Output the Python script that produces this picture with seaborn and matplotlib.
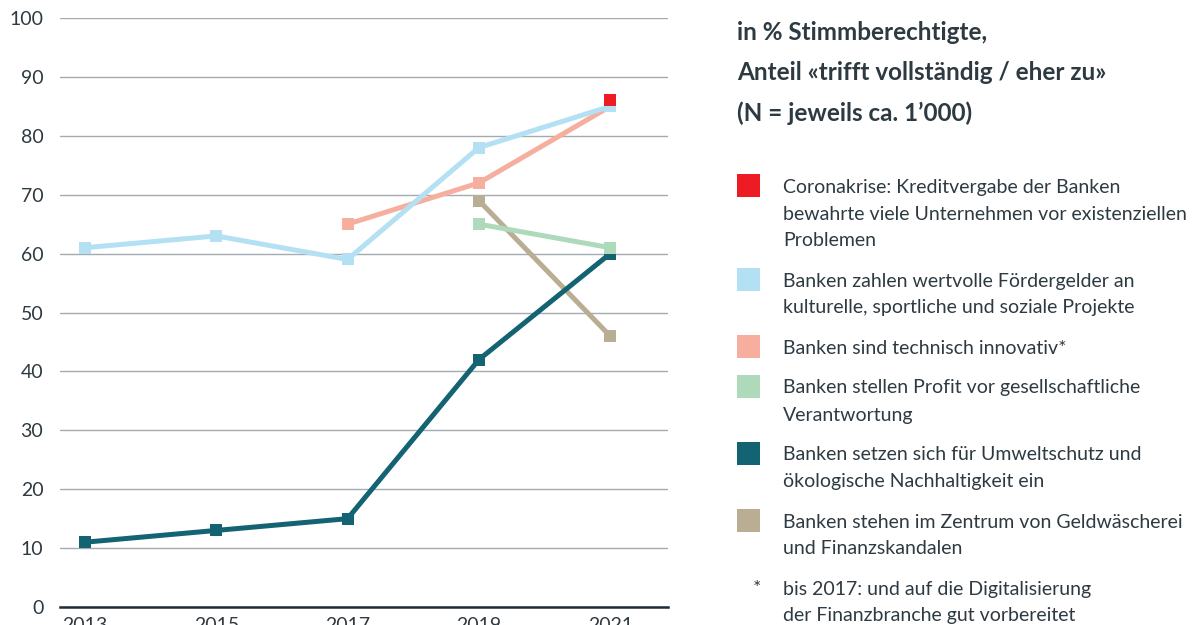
import seaborn as sns
import pandas as pd
from matplotlib import pyplot as plt
from matplotlib.patches import Rectangle

# Data

years = [2013, 2015, 2017, 2019, 2021]

foerdergelder = [61, 63, 59, 78, 85]
innovativ_years = [2017, 2019, 2021]
innovativ = [65, 72, 85]
profit_years = [2019, 2021]
profit = [65, 61]
umweltschutz = [11, 13, 15, 42, 60]
geldwaescherei_years = [2019, 2021]
geldwaescherei = [69, 46]
corona_years = [2021]
corona = [86]

legend_labels = [
    ["Coronakrise: Kreditvergabe der Banken",
     "bewahrte viele Unternehmen vor existenziellen",
     "Problemen"],
    ["Banken zahlen wertvolle Fördergelder an",
     "kulturelle, sportliche und soziale Projekte"],
    ["Banken sind technisch innovativ*"],
    ["Banken stellen Profit vor gesellschaftliche",
     "Verantwortung"],
    ["Banken setzen sich für Umweltschutz und",
     "ökologische Nachhaltigkeit ein"],
    ["Banken stehen im Zentrum von Geldwäscherei",
     "und Finanzskandalen"],
]
footnote = ["bis 2017: und auf die Digitalisierung",
            "der Finanzbranche gut vorbereitet"]
title_lines = ["in % Stimmberechtigte,",
               "Anteil «trifft vollständig / eher zu»",
               "(N = jeweils ca. 1’000)"]

RED = "#ED1C24"
BLUE = "#B3E1F3"
SALMON = "#F6AF9F"
GREEN = "#AED9BA"
TEAL = "#136372"
TAN = "#B9AD93"
TEXT = "#2E3A41"
legend_colors = [RED, BLUE, SALMON, GREEN, TEAL, TAN]

sns.set_theme(style="white")
plt.rcParams['font.family'] = ['Lato', 'DejaVu Sans']

W, H = 1194, 625
fig = plt.figure(figsize=(W / 100, H / 100), dpi=100)
ax = fig.add_axes([60 / W, 18 / H, 608 / W, 589 / H])

line_kw = dict(marker='s', markersize=8, markeredgewidth=0, linewidth=3.6)

sns.lineplot(x=innovativ_years, y=innovativ, color=SALMON, zorder=2, ax=ax, **line_kw)
sns.lineplot(x=geldwaescherei_years, y=geldwaescherei, color=TAN, zorder=3, ax=ax, **line_kw)
sns.lineplot(x=years, y=umweltschutz, color=TEAL, zorder=4, ax=ax, **line_kw)
sns.lineplot(x=profit_years, y=profit, color=GREEN, zorder=5, ax=ax, **line_kw)
sns.lineplot(x=years, y=foerdergelder, color=BLUE, zorder=6, ax=ax, **line_kw)
sns.lineplot(x=corona_years, y=corona, color=RED, zorder=7, ax=ax, **line_kw)

ax.set_xlim(2012.62, 2021.88)
ax.set_ylim(0, 100)
ax.set_xticks(years)
ax.set_yticks(range(0, 101, 10))
ax.yaxis.grid(True, color="#A3ABB1", linewidth=1.0, zorder=0)
ax.set_axisbelow(True)
for side in ['left', 'right', 'top']:
    ax.spines[side].set_visible(False)
ax.spines['bottom'].set_color("#1F2D35")
ax.spines['bottom'].set_linewidth(1.8)
ax.tick_params(axis='y', length=0, pad=12, labelsize=14, labelcolor=TEXT)
ax.tick_params(axis='x', length=0, pad=7, labelsize=14, labelcolor=TEXT)
ax.set_xlabel("")
ax.set_ylabel("")

# Title on the right
for i, line in enumerate(title_lines):
    fig.text(737 / W, 1 - (33 + i * 40) / H, line, fontsize=17.5, fontweight='bold',
             color=TEXT, va='center', ha='left')

# Legend built by hand (square + wrapped text)
y_top = 174
for color, lines in zip(legend_colors, legend_labels):
    fig.add_artist(Rectangle((737 / W, 1 - (y_top + 23) / H), 23 / W, 23 / H,
                             facecolor=color, edgecolor='none', transform=fig.transFigure))
    for j, line in enumerate(lines):
        fig.text(783 / W, 1 - (y_top + 13 + j * 27) / H, line, fontsize=14,
                 color=TEXT, va='center', ha='left')
    y_top += len(lines) * 27 + 13

fig.text(757 / W, 1 - (y_top + 12) / H, "*", fontsize=14, color=TEXT,
         va='center', ha='center')
for j, line in enumerate(footnote):
    fig.text(783 / W, 1 - (y_top + 13 + j * 27) / H, line, fontsize=14,
             color=TEXT, va='center', ha='left')

fig.savefig("out.png", dpi=100)
